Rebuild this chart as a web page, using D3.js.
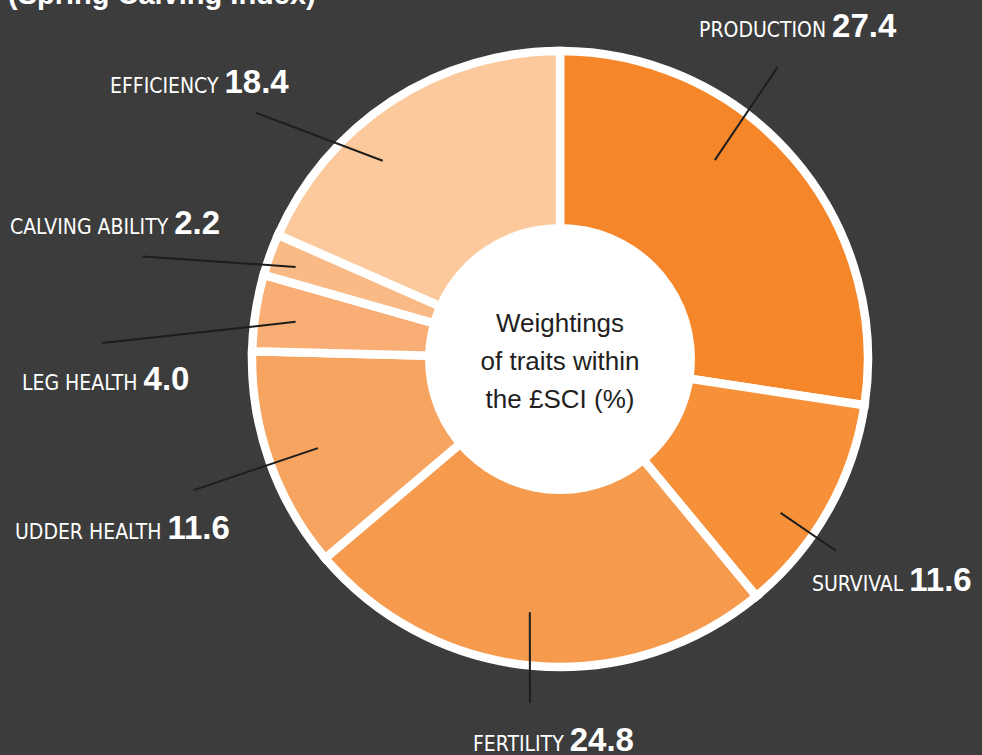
<!DOCTYPE html>
<html>
<head>
<meta charset="utf-8">
<script src="https://cdn.jsdelivr.net/npm/d3@7"></script>
<style>
  html, body { margin: 0; padding: 0; background: #3c3c3c; }
  svg { display: block; }
</style>
</head>
<body>
<script>
var WIDTH = 982;
var HEIGHT = 755;
var CX = 560;
var CY = 359;
var OUTER_R = 308;
var HOLE_R = 135;
var GAP = 8.5;

// traits, clockwise from 12 o'clock
var traits = ['PRODUCTION', 'SURVIVAL', 'FERTILITY', 'UDDER HEALTH', 'LEG HEALTH', 'CALVING ABILITY', 'EFFICIENCY'];
var weights = [27.4, 11.6, 24.8, 11.6, 4.0, 2.2, 18.4];
var colours = ['#f5872a', '#f6913a', '#f69b4d', '#f7a460', '#f8ae74', '#f9ba86', '#fbc99c'];
var centreLines = ['Weightings', 'of traits within', 'the \u00a3SCI (%)'];

// leader lines in polar coords around the centre: [startDeg, startR, endDeg, endR]
var leaders = [
  [37.9, 252, 36.7, 364],
  [124.9, 269, 124.8, 336],
  [186.8, 255, 185.0, 345],
  [249.8, 258, 250.3, 389],
  [278.0, 267, 272.0, 458],
  [289.2, 280, 283.8, 430],
  [318.2, 266, 309.0, 391]
];
// label anchors (left edge, baseline)
var labelPos = [
  [699, 37], [812, 591], [473, 751], [15, 539], [22, 390], [10, 234], [110, 93]
];

var svg = d3.select('body').append('svg')
    .attr('width', WIDTH)
    .attr('height', HEIGHT);

svg.append('rect')
    .attr('width', WIDTH)
    .attr('height', HEIGHT)
    .attr('fill', '#3c3c3c');

svg.append('text')
    .attr('x', 8)
    .attr('y', 4)
    .style('font-family', 'Liberation Sans, Arial, sans-serif')
    .style('font-weight', 'bold')
    .style('font-size', '29px')
    .attr('fill', '#ffffff')
    .text('(Spring Calving Index)');

var data = traits.map(function (t, i) {
  return { name: t, value: weights[i], color: colours[i], leader: leaders[i], pos: labelPos[i] };
});

var pie = d3.pie()
    .sort(null)
    .value(function (d) { return d.value; });

var arc = d3.arc()
    .innerRadius(0)
    .outerRadius(OUTER_R);

var g = svg.append('g')
    .attr('transform', 'translate(' + CX + ',' + CY + ')');

g.selectAll('.slice')
    .data(pie(data))
    .enter()
    .append('path')
    .attr('class', 'slice')
    .attr('d', arc)
    .attr('fill', function (d) { return d.data.color; })
    .attr('stroke', '#ffffff')
    .attr('stroke-width', GAP)
    .attr('stroke-linejoin', 'miter');

g.append('circle')
    .attr('r', HOLE_R)
    .attr('fill', '#ffffff');

var rad = Math.PI / 180;
g.selectAll('.leader')
    .data(data)
    .enter()
    .append('line')
    .attr('class', 'leader')
    .each(function (d) {
      var a = d3.pointRadial(d.leader[0] * rad, d.leader[1]);
      var b = d3.pointRadial(d.leader[2] * rad, d.leader[3]);
      d3.select(this)
        .attr('x1', a[0]).attr('y1', a[1])
        .attr('x2', b[0]).attr('y2', b[1]);
    })
    .attr('stroke', '#1d1d1b')
    .attr('stroke-width', 2);

var centre = g.append('text')
    .attr('text-anchor', 'middle')
    .style('font-family', 'Liberation Sans, Arial, sans-serif')
    .style('font-size', '26px')
    .attr('fill', '#231f20');
centre.selectAll('tspan')
    .data(centreLines)
    .enter()
    .append('tspan')
    .attr('x', 0)
    .attr('y', function (d, i) { return -27 + i * 38; })
    .text(function (d) { return d; });

var labels = svg.selectAll('.label')
    .data(data)
    .enter()
    .append('text')
    .attr('class', 'label')
    .attr('x', function (d) { return d.pos[0]; })
    .attr('y', function (d) { return d.pos[1]; })
    .attr('fill', '#ffffff');

labels.append('tspan')
    .style('font-family', 'Liberation Sans Narrow, Arial Narrow, DejaVu Sans Condensed, sans-serif')
    .style('font-size', '21px')
    .text(function (d) { return d.name + ' '; });

labels.append('tspan')
    .style('font-family', 'Liberation Sans, Arial, sans-serif')
    .style('font-weight', 'bold')
    .style('font-size', '33px')
    .text(function (d) { return d.value.toFixed(1); });
</script>
</body>
</html>
